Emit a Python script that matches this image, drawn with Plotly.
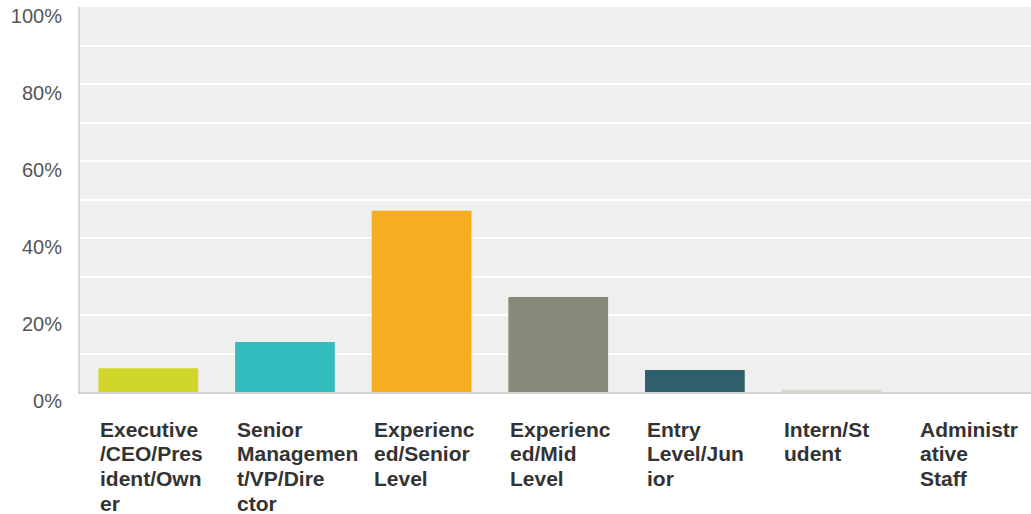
import plotly.graph_objects as go

# Survey responses by job level (share of respondents, %)
categories = [
    "Executive/CEO/President/Owner",
    "Senior Management/VP/Director",
    "Experienced/Senior Level",
    "Experienced/Mid Level",
    "Entry Level/Junior",
    "Intern/Student",
    "Administrative Staff",
]
tick_labels = [
    "Executive<br>/CEO/Pres<br>ident/Own<br>er",
    "Senior<br>Managemen<br>t/VP/Dire<br>ctor",
    "Experienc<br>ed/Senior<br>Level",
    "Experienc<br>ed/Mid<br>Level",
    "Entry<br>Level/Jun<br>ior",
    "Intern/St<br>udent",
    "Administr<br>ative<br>Staff",
]
values = [6.2, 13.0, 47.1, 24.7, 5.7, 0.6, 0.0]
bar_colors = ["#d0d62b", "#33bdbe", "#f6ae20", "#888a79", "#2e5f6b", "#d9d6c4", "#b7b7b7"]

y_tick_values = list(range(0, 101, 10))
y_tick_text = [f"{v}%" if v % 20 == 0 else "" for v in y_tick_values]

BAR_WIDTH = 0.73
LABEL_FONT = dict(family="Liberation Sans, Arial, sans-serif", size=21, color="#333333")
LINE_STEP = 24.7      # px between wrapped label lines
FIRST_LINE = -37      # px from plot bottom to centre of first label line

fig = go.Figure(
    go.Bar(
        x=categories,
        y=values,
        width=BAR_WIDTH,
        marker=dict(color=bar_colors, line=dict(width=0)),
        hoverinfo="x+y",
    )
)

# Category labels, left-aligned with each bar's left edge, one line per annotation
for i, label in enumerate(tick_labels):
    for k, line in enumerate(label.split("<br>")):
        fig.add_annotation(
            x=i - BAR_WIDTH / 2,
            xref="x",
            y=0,
            yref="paper",
            yanchor="middle",
            xanchor="left",
            align="left",
            yshift=FIRST_LINE - LINE_STEP * k,
            text=f"<b>{line}</b>",
            showarrow=False,
            font=LABEL_FONT,
        )

fig.update_layout(
    width=1031,
    height=514,
    margin=dict(l=80, r=0, t=7, b=122),
    paper_bgcolor="white",
    plot_bgcolor="#efefef",
    showlegend=False,
    font=dict(family="Liberation Sans, Arial, sans-serif"),
    xaxis=dict(
        range=[-0.5, 6.46],
        showticklabels=False,
        showgrid=False,
        showline=True,
        linecolor="#d4d4d4",
        linewidth=2,
        ticks="",
        fixedrange=True,
    ),
    yaxis=dict(
        range=[0, 100],
        tickmode="array",
        tickvals=y_tick_values,
        ticktext=y_tick_text,
        showgrid=True,
        gridcolor="white",
        gridwidth=2,
        zeroline=False,
        showline=True,
        linecolor="#d9d9d9",
        linewidth=2,
        ticks="",
        ticklabelstandoff=12,
        ticklabelshift=9,
        tickfont=dict(family="Liberation Sans, Arial, sans-serif", size=20, color="#555555"),
        fixedrange=True,
    ),
)

fig.write_html("out.html")
